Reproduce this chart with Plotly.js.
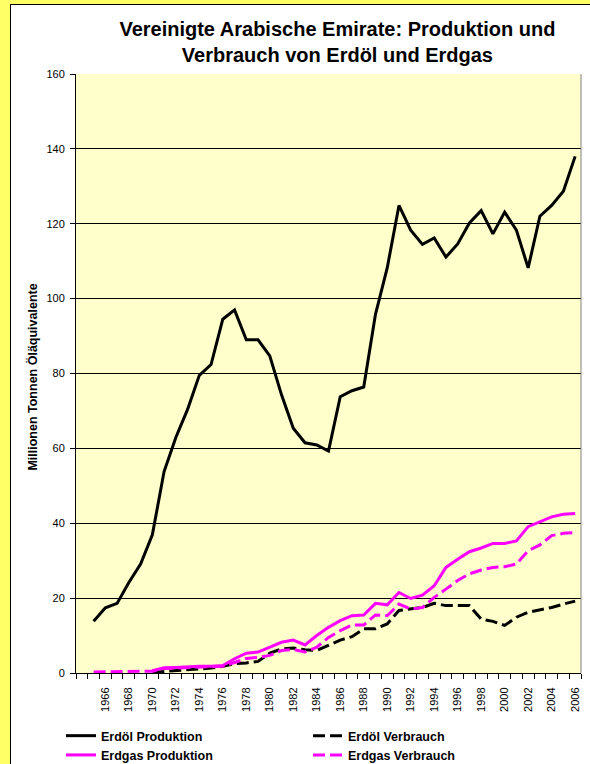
<!DOCTYPE html>
<html>
<head>
<meta charset="utf-8">
<script src="https://cdn.plot.ly/plotly-3.0.1.min.js"></script>
<style>
html, body { margin:0; padding:0; background:#FFFF66; overflow:hidden; width:590px; height:764px; }
#frame { position:absolute; left:10px; top:4px; width:600px; height:780px; border-left:1px solid #000; border-top:1px solid #000; background:#fff; overflow:hidden; }
#chart { width:600px; height:780px; }
</style>
</head>
<body>
<div id="frame"><div id="chart"></div></div>
<script>
const years = [];
for (let y = 1965; y <= 2006; y++) years.push(y);
const tickYears = years.filter(y => y % 2 === 0);

const oilProduction = [13.8,17.4,18.6,24.2,29.1,36.9,53.8,62.9,70.4,79.5,
  82.4,94.5,97.0,89.0,89.0,84.7,74.3,65.4,61.5,60.9,
  59.3,73.8,75.4,76.4,95.8,108.2,124.9,118.3,114.5,116.2,
  111.1,114.6,120.2,123.5,117.3,123.1,118.3,108.2,122.0,124.9,
  128.7,138.0];
const oilConsumption = [null,null,null,null,null,0.2,0.4,0.6,0.8,1.0,
  1.3,1.8,2.5,2.7,3.1,5.3,6.4,6.7,6.2,6.0,
  7.5,8.8,9.7,11.8,11.8,13.1,16.7,17.1,17.5,18.6,
  18.0,18.0,18.0,14.4,13.8,12.7,14.9,16.2,16.8,17.5,
  18.4,19.2];
const gasProduction = [null,null,null,null,null,0.6,1.4,1.5,1.7,1.8,
  1.8,2.0,3.8,5.3,5.6,6.9,8.2,8.8,7.5,10.0,
  12.2,14.0,15.3,15.5,18.6,18.2,21.5,19.9,20.8,23.3,
  28.2,30.4,32.4,33.4,34.6,34.6,35.3,39.1,40.4,41.7,
  42.4,42.6];
const gasConsumption = [0.3,0.3,0.3,0.3,0.3,0.5,1.2,1.3,1.5,1.6,
  1.6,1.8,2.8,3.9,4.2,4.7,6.0,6.3,5.6,6.9,
  9.5,11.3,12.8,12.8,15.5,15.3,18.4,17.1,17.5,20.2,
  22.4,24.7,26.5,27.5,28.2,28.4,29.1,32.7,34.2,36.7,
  37.3,37.5];

const seriesNames = ["Erdöl Produktion","Erdöl Verbrauch","Erdgas Produktion","Erdgas Verbrauch"];
const yTitle = "Millionen Tonnen Öläquivalente";
const chartTitle = "Vereinigte Arabische Emirate: Produktion und<br>Verbrauch von Erdöl und Erdgas";

const FONT = 'Arial, "Liberation Sans", sans-serif';
const dashPat = "12px,5px";

const traces = [
  {x: years, y: oilProduction, name: seriesNames[0], mode: 'lines', legend: 'legend', line: {color: '#000000', width: 3}},
  {x: years, y: oilConsumption, name: seriesNames[1], mode: 'lines', legend: 'legend2', line: {color: '#000000', width: 3, dash: dashPat}},
  {x: years, y: gasProduction, name: seriesNames[2], mode: 'lines', legend: 'legend', line: {color: '#FF00FF', width: 3}},
  {x: years, y: gasConsumption, name: seriesNames[3], mode: 'lines', legend: 'legend2', line: {color: '#FF00FF', width: 3, dash: dashPat}}
];

const legendCommon = {
  orientation: 'v', xref: 'container', yref: 'container',
  xanchor: 'left', y: 0.082, yanchor: 'top',
  font: {size: 12.5, weight: 'bold', family: FONT},
  tracegroupgap: 0, bgcolor: 'rgba(0,0,0,0)', itemwidth: 30, traceorder: 'normal'
};

const layout = {
  width: 600, height: 780,
  margin: {l: 65, r: 30, t: 69, b: 112, autoexpand: false},
  paper_bgcolor: '#ffffff',
  plot_bgcolor: '#FFFFCC',
  font: {family: FONT, color: '#000000', size: 11},
  title: {text: chartTitle, font: {family: FONT, size: 20, weight: 'bold', color: '#000'},
          x: 0.544, xanchor: 'center', y: 0.96, yanchor: 'top', yref: 'container'},
  xaxis: {
    range: [1963.5, 2006.5],
    tickmode: 'array', tickvals: tickYears, ticktext: tickYears.map(String),
    ticks: 'outside', ticklen: 5, tickcolor: 'rgba(0,0,0,0)',
    ticklabelstandoff: 4,
    tickangle: -90, tickfont: {size: 11, family: FONT},
    minor: {ticks: 'outside', ticklen: 5, tickcolor: '#000', tick0: 1963.5, dtick: 1, showgrid: false},
    showline: true, linecolor: '#000', linewidth: 1,
    showgrid: false, zeroline: false, fixedrange: true
  },
  yaxis: {
    range: [0, 160], tickmode: 'linear', tick0: 0, dtick: 20,
    ticks: 'outside', ticklen: 5, tickcolor: '#000',
    ticklabelstandoff: 3,
    tickfont: {size: 11, family: FONT},
    showline: true, linecolor: '#000', linewidth: 1,
    showgrid: true, gridcolor: '#000', gridwidth: 1,
    zeroline: false
  },
  annotations: [
    {text: yTitle, xref: 'paper', yref: 'paper', x: -0.0861, y: 0.494,
     xanchor: 'center', yanchor: 'middle', textangle: -90, showarrow: false,
     font: {size: 12.5, weight: 'bold', family: FONT, color: '#000'}}
  ],
  shapes: [
    {type: 'line', xref: 'paper', yref: 'paper', x0: 1, x1: 1, y0: 0, y1: 1, line: {color: '#808080', width: 1}}
  ],
  showlegend: true,
  legend: Object.assign({}, legendCommon, {x: 0.0833}),
  legend2: Object.assign({}, legendCommon, {x: 0.495})
};

Plotly.newPlot('chart', traces, layout, {displayModeBar: false, staticPlot: true});
</script>
</body>
</html>
